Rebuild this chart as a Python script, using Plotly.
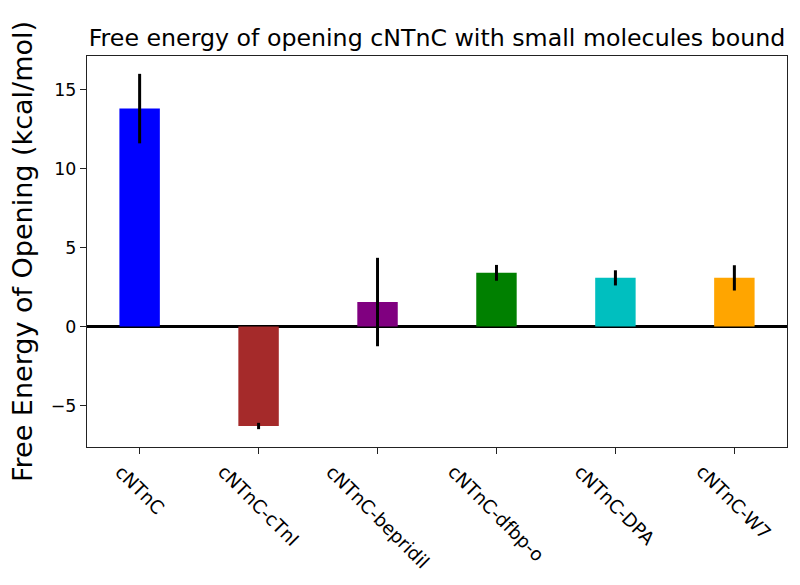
import plotly.graph_objects as go

categories = ["cNTnC", "cNTnC-cTnI", "cNTnC-bepridil", "cNTnC-dfbp-o", "cNTnC-DPA", "cNTnC-W7"]
free_energy = [13.8, -6.3, 1.55, 3.4, 3.08, 3.08]
errors = [2.2, 0.2, 2.8, 0.5, 0.48, 0.8]
colors = ["#0000FF", "#A52A2A", "#800080", "#008000", "#00BFBF", "#FFA500"]
y_ticks = [-5, 0, 5, 10, 15]

FONT = "DejaVu Sans"

fig = go.Figure()
fig.add_trace(go.Bar(
    x=categories, y=free_energy, width=0.34,
    marker=dict(color=colors, line=dict(width=0)),
    error_y=dict(type="data", array=errors, visible=True, color="black",
                 thickness=3, width=0),
    showlegend=False,
))

for c in categories:
    fig.add_annotation(x=c, y=0, xref="x", yref="paper", text=c,
                       textangle=45, showarrow=False, xanchor="center",
                       yanchor="top", yshift=-11,
                       font=dict(family=FONT, size=18.5, color="black"))

fig.update_layout(
    width=800, height=585,
    margin=dict(l=87, r=13, t=56, b=138, autoexpand=False),
    paper_bgcolor="white", plot_bgcolor="white",
    font=dict(family=FONT, color="black"),
    title=dict(text="Free energy of opening cNTnC with small molecules bound",
               x=0.5, xref="paper", xanchor="center",
               y=1 - 38 / 585, yref="container", yanchor="middle",
               automargin=False,
               font=dict(family=FONT, size=23.7, color="black")),
    xaxis=dict(type="category", range=[-0.4425, 5.4425], showline=True,
               linecolor="#222222", linewidth=1.2, mirror=True,
               ticks="outside", ticklen=6, tickwidth=1.2, tickcolor="#222222",
               showticklabels=False, showgrid=False, zeroline=False,
               automargin=False),
    yaxis=dict(range=[-7.63, 17.13], tickvals=y_ticks, showline=True,
               linecolor="#222222", linewidth=1.2, mirror=True,
               ticks="outside", ticklen=6, tickwidth=1.2, tickcolor="#222222",
               tickfont=dict(family=FONT, size=17.4, color="black"),
               showgrid=False, zeroline=True, zerolinecolor="black",
               zerolinewidth=2.7, automargin=False,
               title=dict(text="Free Energy of Opening (kcal/mol)", standoff=10,
                          font=dict(family=FONT, size=27, color="black"))),
)

fig.write_html("out.html", config={"displayModeBar": False},
               post_script="document.body.style.margin='0';document.body.style.padding='0';")
